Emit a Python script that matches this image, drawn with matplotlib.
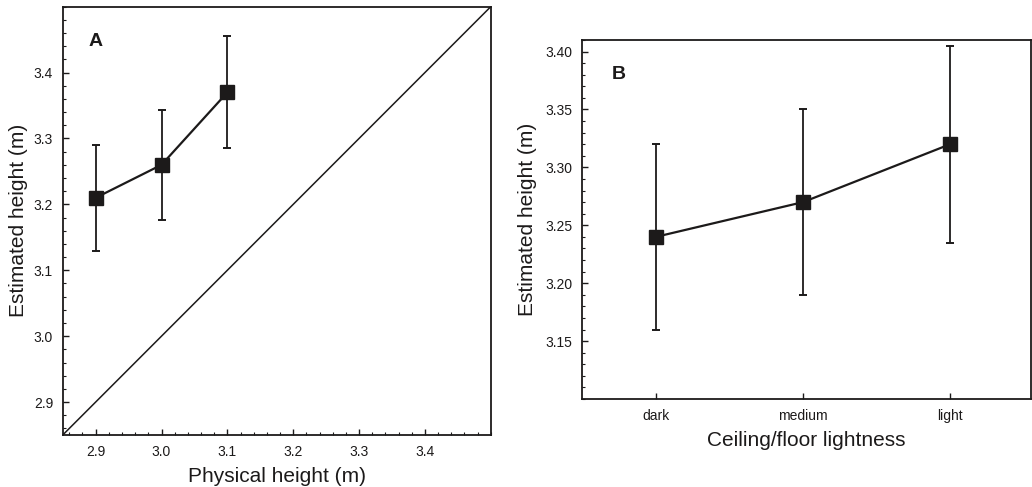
import matplotlib
matplotlib.use("Agg")
import matplotlib.pyplot as plt
from matplotlib.ticker import MultipleLocator

plt.rcParams['font.family'] = ['Liberation Sans', 'DejaVu Sans']

# Panel A data
phys_height = [2.9, 3.0, 3.1]
est_height_A = [3.21, 3.26, 3.37]
err_A = [0.08, 0.083, 0.085]
diag = [2.85, 3.5]

# Panel B data
lightness = ['dark', 'medium', 'light']
est_height_B = [3.24, 3.27, 3.32]
err_B = [0.08, 0.08, 0.085]

col = '#1c1a1a'
fig = plt.figure(figsize=(10.32, 4.87), dpi=100)

axA = fig.add_axes([0.0608, 0.1068, 0.4147, 0.8794])
axB = fig.add_axes([0.5643, 0.1807, 0.4348, 0.7372])

# Panel A
axA.plot(diag, diag, color=col, lw=1.1)
axA.errorbar(phys_height, est_height_A, yerr=err_A, color=col, lw=1.6,
             marker='s', markersize=10, capsize=3, capthick=1.4, elinewidth=1.3)
axA.set_xlim(2.85, 3.5)
axA.set_ylim(2.85, 3.5)
axA.set_xticks([2.9, 3.0, 3.1, 3.2, 3.3, 3.4])
axA.set_yticks([2.9, 3.0, 3.1, 3.2, 3.3, 3.4])
axA.xaxis.set_minor_locator(MultipleLocator(0.02))
axA.yaxis.set_minor_locator(MultipleLocator(0.02))
axA.set_xticklabels(['2.9', '3.0', '3.1', '3.2', '3.3', '3.4'])
axA.set_yticklabels(['2.9', '3.0', '3.1', '3.2', '3.3', '3.4'])
axA.set_xlabel('Physical height (m)', fontsize=15, color=col, labelpad=6)
axA.set_ylabel('Estimated height (m)', fontsize=15, color=col, labelpad=4)
axA.text(2.9, 3.447, 'A', fontsize=14, fontweight='bold', ha='center', va='center', color=col)

# Panel B
xpos = list(range(len(lightness)))
axB.errorbar(xpos, est_height_B, yerr=err_B, color=col, lw=1.6,
             marker='s', markersize=10, capsize=3, capthick=1.4, elinewidth=1.3)
axB.set_xlim(-0.5, 2.55)
axB.set_ylim(3.10, 3.41)
axB.set_xticks(xpos)
axB.set_xticklabels(lightness)
axB.set_yticks([3.15, 3.20, 3.25, 3.30, 3.35, 3.40])
axB.set_yticklabels(['3.15', '3.20', '3.25', '3.30', '3.35', '3.40'])
axB.yaxis.set_minor_locator(MultipleLocator(0.01))
axB.set_xlabel('Ceiling/floor lightness', fontsize=15, color=col, labelpad=6)
axB.set_ylabel('Estimated height (m)', fontsize=15, color=col, labelpad=6)
axB.text(-0.25, 3.38, 'B', fontsize=14, fontweight='bold', ha='center', va='center', color=col)

for ax in (axA, axB):
    for s in ax.spines.values():
        s.set_linewidth(1.3)
        s.set_color(col)
    ax.tick_params(which='major', direction='in', length=4, width=1, pad=7,
                   labelsize=10, colors=col)
    ax.tick_params(which='minor', direction='in', length=2.5, width=0.8, colors=col)

fig.savefig('out.png', dpi=100)
